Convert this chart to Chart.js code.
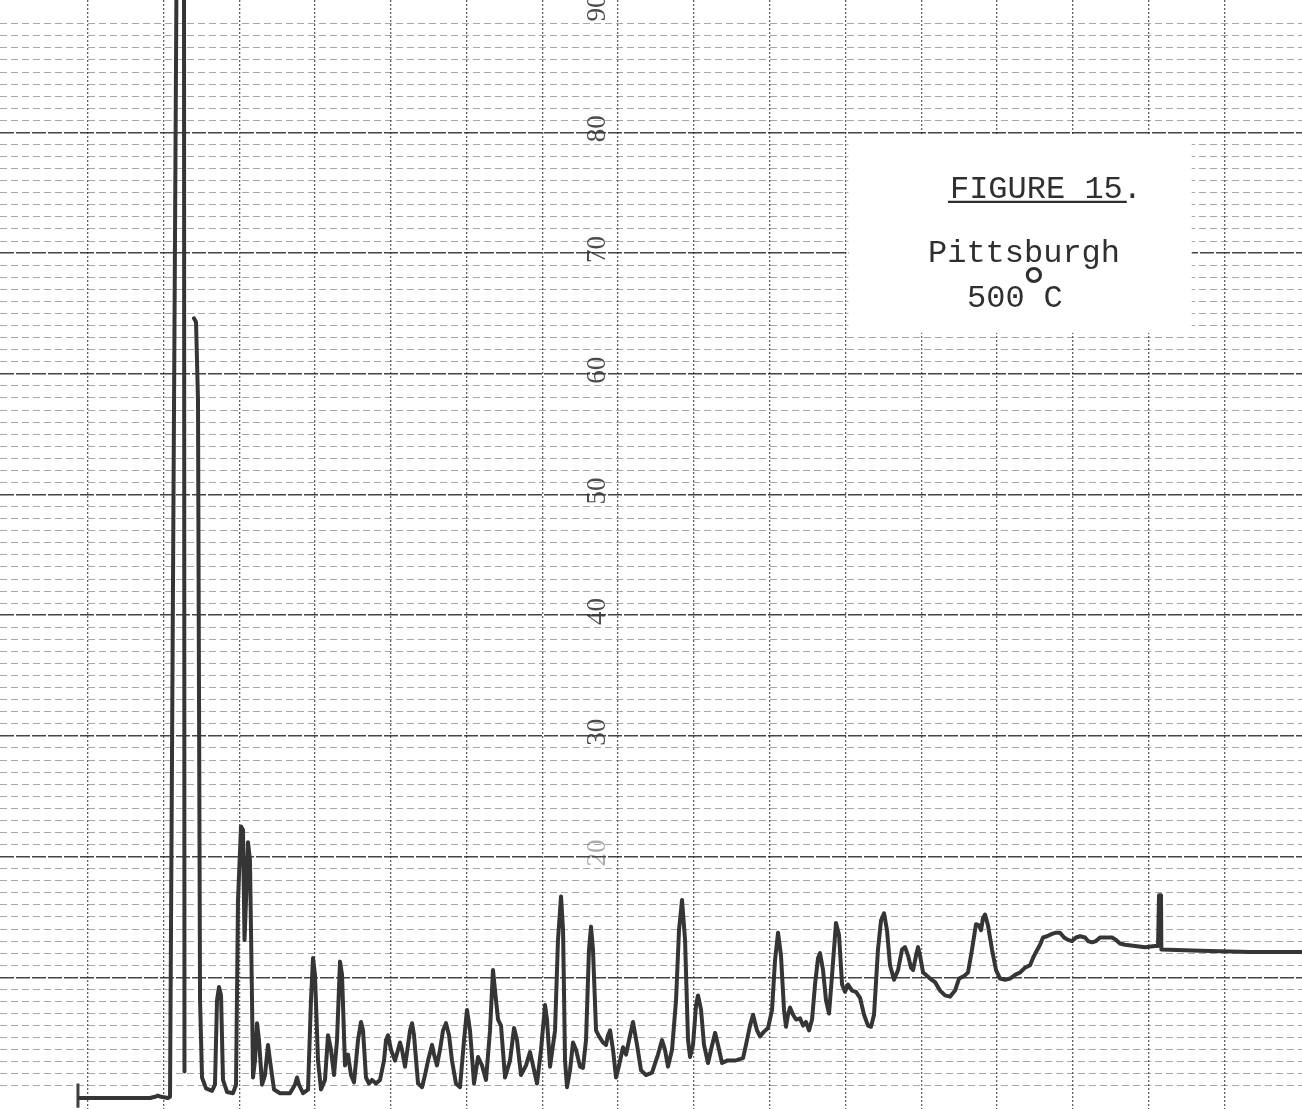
<!DOCTYPE html>
<html>
<head>
<meta charset="utf-8">
<title>Figure 15 - Pittsburgh 500°C</title>
<script src="https://cdn.jsdelivr.net/npm/chart.js@4.4.1/dist/chart.umd.min.js"></script>
<style>
  html, body { margin: 0; padding: 0; background: #ffffff; overflow: hidden; }
  canvas { display: block; }
</style>
</head>
<body>
<canvas id="chart" width="1302" height="1109"></canvas>
<script>
// Recorder trace: chart distance (10 units per ruled division) against pen response (% of full scale).
// A null response marks the point where the pen skipped after the solvent front.
const retention = [
  8.86, 18.23, 18.89, 19.28, 19.68, 20.60, 20.87, 21.79, 22.71, 22.78, 23.51,
  24.03, 24.30, 24.56, 24.83, 25.09, 25.62, 26.41, 26.80, 27.07, 27.33, 27.60, 27.86, 28.39, 29.18,
  29.58, 29.84, 30.24, 30.50, 30.70, 30.90, 31.16, 31.42, 31.69, 31.82, 32.08, 32.35, 32.61, 33.01,
  33.40, 33.80, 34.06, 34.59, 35.38, 36.70, 37.36, 37.63, 37.89, 38.42, 39.08, 39.47, 39.74, 40.00,
  40.40, 40.79, 41.32, 41.72, 42.11, 42.51, 42.91, 43.30, 43.57, 43.96, 44.36, 44.75, 45.15, 45.68,
  46.07, 46.34, 46.73, 47.13, 47.53, 48.05, 48.58, 49.11, 49.37, 49.64, 50.03, 50.56, 50.96, 51.22,
  51.48, 51.88, 52.28, 52.54, 52.81, 53.07, 53.60, 54.13, 54.52, 54.92, 55.45, 55.71, 56.10, 56.50,
  56.90, 57.29, 57.69, 58.08, 58.61, 59.14, 59.67, 60.06, 60.46, 60.99, 61.52, 62.04, 62.57, 63.10,
  63.49, 63.89, 64.16, 64.55, 65.08, 65.74, 66.27, 66.66, 67.19, 67.85, 68.38, 68.77, 69.30, 69.83,
  70.36, 70.62, 71.02, 71.68, 72.07, 72.47, 72.74, 73.00, 73.26, 73.66, 74.05, 74.45, 74.98, 75.37,
  75.77, 76.16, 76.43, 76.69, 77.09, 77.49, 78.01, 78.41, 78.67, 78.94, 79.33, 79.73, 80.13, 80.65,
  81.05, 81.45, 81.97, 82.50, 83.03, 83.69, 84.48, 85.27, 85.80, 86.19, 86.59, 87.12, 87.65, 88.04,
  88.44, 88.84, 89.23, 89.50, 89.89, 90.29, 90.55, 90.95, 91.34, 91.87, 92.27, 92.80, 93.19, 93.72,
  94.38, 95.43, 96.49, 96.88, 97.41, 97.81, 98.34, 98.73, 99.26, 99.79, 100.32, 100.71, 101.11, 101.50,
  101.90, 102.16, 102.43, 102.69, 103.09, 103.49, 104.01, 104.41, 104.80, 105.20, 105.60, 105.99, 106.39,
  106.65, 107.05, 107.44, 107.84, 108.24, 108.76, 109.16, 109.56, 109.95, 110.35, 110.88, 111.40, 111.93,
  112.46, 112.98, 113.38, 113.78, 114.30, 114.70, 115.10, 115.49, 115.89, 116.42, 116.95, 117.47, 117.87,
  118.27, 118.66, 118.93, 119.32, 119.59, 119.85, 120.25, 120.64, 121.17, 121.83, 122.49, 123.15, 123.81,
  124.47, 125.00, 125.66, 126.18, 126.71, 127.23, 127.63, 127.90, 128.16, 128.43, 128.82, 129.35, 129.88,
  130.41, 131.07, 131.73, 132.39, 133.05, 133.71, 134.37, 134.76, 135.16, 135.69, 136.08, 136.61, 137.27,
  137.80, 138.33, 138.86, 139.38, 139.91, 140.44, 140.97, 141.63, 142.02, 142.55, 143.08, 143.61, 144.40,
  145.19, 145.71, 146.24, 146.90, 148.22, 149.54, 150.86, 151.26, 151.39, 151.65, 151.70, 156.80, 163.40,
  171.00
];

const response = [
  0.0, 0.0, 0.1, 0.2, 0.1, 0.0, 0.1, 100, 100, 2.2, null,
  64.6, 64.3, 57.8, 8.1, 1.7, 0.8, 0.6, 1.1, 8.1, 9.2, 8.5, 1.5, 0.5, 0.4,
  1.1, 16.4, 22.5, 22.2, 13.1, 16.4, 21.2, 19.7, 8.1, 1.7, 3.1, 6.2, 4.8, 1.1,
  1.9, 4.4, 3.1, 0.7, 0.4, 0.4, 1.1, 1.7, 1.1, 0.4, 0.7, 8.1, 11.6, 10.2,
  3.1, 0.7, 1.5, 5.2, 4.0, 1.9, 4.8, 11.3, 10.2, 2.7, 3.6, 1.9, 1.3, 4.8,
  6.3, 5.6, 1.7, 1.2, 1.5, 1.2, 1.5, 3.1, 4.8, 5.2, 4.0, 3.1, 4.0, 4.6,
  4.0, 2.6, 4.4, 5.6, 6.2, 5.2, 1.2, 0.9, 1.9, 3.1, 4.4, 3.6, 2.7, 4.0,
  5.6, 6.2, 5.2, 3.1, 1.2, 0.9, 4.8, 7.3, 5.6, 1.2, 3.4, 2.7, 1.5, 5.6,
  10.6, 8.1, 6.5, 6.0, 1.7, 3.1, 5.8, 4.8, 1.9, 2.7, 3.8, 2.7, 1.2, 4.0,
  7.7, 6.5, 2.6, 5.6, 13.1, 16.7, 13.9, 3.1, 0.9, 2.3, 4.6, 4.0, 2.6, 2.5,
  4.8, 12.3, 14.2, 12.3, 5.6, 5.1, 4.6, 4.4, 5.2, 5.6, 4.0, 1.7, 2.7, 4.2,
  3.6, 4.8, 6.3, 4.4, 2.3, 1.9, 2.1, 3.6, 4.8, 4.0, 2.6, 4.0, 8.1, 13.9,
  16.4, 13.1, 4.8, 3.4, 4.4, 7.7, 8.5, 7.3, 4.4, 2.9, 4.0, 5.4, 4.4, 2.9,
  3.1, 3.1, 3.3, 4.4, 6.0, 6.9, 5.6, 5.1, 5.5, 5.8, 7.3, 11.4, 13.7, 11.8,
  7.3, 5.9, 6.9, 7.5, 6.9, 6.5, 6.6, 6.0, 6.3, 5.6, 6.5, 9.4, 11.6,
  12.0, 10.6, 8.1, 7.0, 10.2, 14.5, 13.5, 9.4, 8.8, 9.4, 8.9, 8.8, 8.3,
  6.9, 6.0, 5.9, 6.9, 12.3, 14.7, 15.3, 13.9, 11.0, 9.8, 10.6, 12.3, 12.5,
  11.8, 10.8, 10.6, 11.8, 12.5, 11.8, 10.4, 10.2, 9.9, 9.6, 8.9, 8.5, 8.4,
  8.9, 9.9, 10.1, 10.4, 12.3, 14.4, 14.3, 13.9, 14.9, 15.2, 14.3, 12.3, 10.6,
  9.9, 9.8, 9.9, 10.2, 10.4, 10.8, 11.0, 11.6, 12.1, 12.7, 13.3, 13.4, 13.6,
  13.7, 13.7, 13.3, 13.1, 13.0, 13.3, 13.4, 13.3, 13.0, 12.9, 13.0, 13.3, 13.3,
  13.3, 13.1, 12.8, 12.7, 12.6, 12.5, 12.6, 12.6, 16.8, 16.8, 12.3, 12.2, 12.1,
  12.1
];

// Injection mark at the start of the run
const injectionRetention = [8.72, 8.72];
const injectionResponse = [1.2, -0.8];

// Full-scale figures printed along the chart paper
const scaleLabels = ['20', '30', '40', '50', '60', '70', '80', '90'];

// Typed caption pasted onto the chart
const captionTitle = 'FIGURE 15.';
const captionSample = 'Pittsburgh';
const captionTemp = '500';
const captionDegree = '°';
const captionUnit = 'C';

const tracePoints = retention.map((x, i) => ({ x: x, y: response[i] }));
const injectionPoints = injectionRetention.map((x, i) => ({ x: x, y: injectionResponse[i] }));

const isMultiple = (v, step) => Math.abs(v / step - Math.round(v / step)) < 1e-6;

// Paper background, pasted caption label and printed scale figures
const paperPlugin = {
  id: 'paper',
  beforeDraw(chart) {
    const ctx = chart.ctx;
    ctx.save();
    ctx.fillStyle = '#ffffff';
    ctx.fillRect(0, 0, chart.width, chart.height);
    ctx.restore();
  },
  beforeDatasetsDraw(chart) {
    const ctx = chart.ctx;
    const xs = chart.scales.x;
    const ys = chart.scales.y;

    // blank label pasted over the ruling
    const bx1 = xs.getPixelForValue(110.4), bx2 = xs.getPixelForValue(155.7);
    const by1 = ys.getPixelForValue(79.8), by2 = ys.getPixelForValue(63.4);
    ctx.save();
    ctx.fillStyle = '#ffffff';
    ctx.fillRect(bx1, by1, bx2 - bx1, by2 - by1);
    ctx.restore();

    // scale figures, printed sideways beside the 80 division
    ctx.save();
    ctx.font = '27px "Liberation Serif", "DejaVu Serif", serif';
    ctx.textAlign = 'center';
    ctx.textBaseline = 'middle';
    const lx = xs.getPixelForValue(77.4);
    scaleLabels.forEach(lbl => {
      const v = Number(lbl);
      const ly = ys.getPixelForValue(v + 0.3);
      ctx.save();
      ctx.translate(lx, ly);
      ctx.rotate(-Math.PI / 2);
      ctx.fillStyle = v === 20 ? 'rgba(70,70,70,0.45)' : 'rgba(55,55,55,0.9)';
      ctx.fillText(lbl, 0, 0);
      ctx.restore();
    });
    ctx.restore();

    // caption text
    ctx.save();
    ctx.fillStyle = '#2f2f2f';
    ctx.textBaseline = 'alphabetic';
    ctx.textAlign = 'left';
    const mono = '"Liberation Mono", "DejaVu Sans Mono", monospace';
    ctx.font = '32px ' + mono;
    const tX = xs.getPixelForValue(123.8), tY = ys.getPixelForValue(74.6);
    ctx.fillText(captionTitle, tX, tY);
    const ulW = ctx.measureText(captionTitle.replace('.', '')).width;
    ctx.strokeStyle = '#2f2f2f';
    ctx.lineWidth = 2.2;
    ctx.beginPath();
    ctx.moveTo(tX - 2, ys.getPixelForValue(74.25));
    ctx.lineTo(tX + ulW + 4, ys.getPixelForValue(74.25));
    ctx.stroke();

    ctx.fillText(captionSample, xs.getPixelForValue(120.9), ys.getPixelForValue(69.3));

    const t2X = xs.getPixelForValue(126.05), t2Y = ys.getPixelForValue(65.5);
    ctx.fillText(captionTemp, t2X, t2Y);
    const w500 = ctx.measureText(captionTemp).width;
    ctx.font = '58px ' + mono;
    ctx.fillText(captionDegree, t2X + w500 - 8, t2Y - 1);
    ctx.font = '32px ' + mono;
    ctx.fillText(captionUnit, t2X + w500 + 19, t2Y);
    ctx.restore();
  }
};

new Chart(document.getElementById('chart'), {
  type: 'line',
  data: {
    datasets: [
      {
        label: 'Pittsburgh 500°C',
        data: tracePoints,
        borderColor: '#353535',
        borderWidth: 4,
        pointRadius: 0,
        tension: 0,
        spanGaps: false,
        borderJoinStyle: 'round',
        borderCapStyle: 'round',
        fill: false
      },
      {
        label: 'injection',
        data: injectionPoints,
        borderColor: '#404040',
        borderWidth: 3,
        pointRadius: 0,
        tension: 0,
        fill: false
      }
    ]
  },
  options: {
    responsive: false,
    animation: false,
    devicePixelRatio: 1,
    layout: { padding: 0 },
    plugins: {
      legend: { display: false },
      tooltip: { enabled: false },
      title: { display: false }
    },
    scales: {
      x: {
        type: 'linear',
        min: -1.57,
        max: 170.26,
        ticks: { display: false, stepSize: 10, maxTicksLimit: 1000 },
        grid: {
          drawTicks: false,
          color: c => isMultiple(c.tick.value, 10) ? 'rgba(45,45,45,0.75)' : 'rgba(0,0,0,0)',
          lineWidth: 1.3
        },
        border: { display: false, dash: [2, 2] }
      },
      y: {
        type: 'linear',
        min: -0.91,
        max: 90.97,
        ticks: { display: false, stepSize: 1, maxTicksLimit: 1000 },
        grid: {
          drawTicks: false,
          color: c => {
            const v = c.tick.value;
            if (!isMultiple(v, 1)) return 'rgba(0,0,0,0)';
            return isMultiple(v, 10) ? 'rgba(35,35,35,0.85)' : 'rgba(80,80,80,0.5)';
          },
          lineWidth: c => isMultiple(c.tick.value, 10) ? 1.6 : 1
        },
        border: {
          display: false,
          dash: c => isMultiple(c.tick.value, 10) ? [14, 2] : [7, 4]
        }
      }
    }
  },
  plugins: [paperPlugin]
});
</script>
</body>
</html>
